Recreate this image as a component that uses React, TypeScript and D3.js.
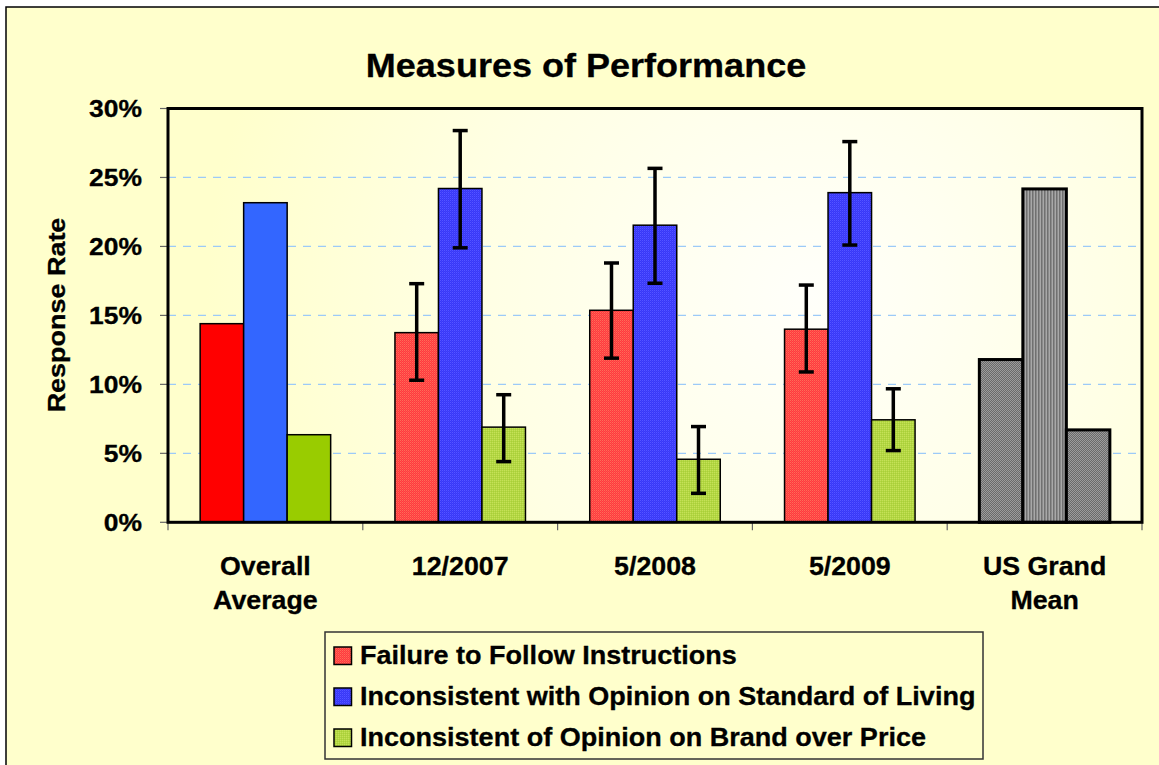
import React from 'react';
import * as d3 from 'd3';

const categories = ['Overall Average', '12/2007', '5/2008', '5/2009', 'US Grand Mean'];
const categoryLines = [['Overall', 'Average'], ['12/2007'], ['5/2008'], ['5/2009'], ['US Grand', 'Mean']];
const seriesNames = [
  'Failure to Follow Instructions',
  'Inconsistent with Opinion on Standard of Living',
  'Inconsistent of Opinion on Brand over Price',
];
const failureValues = [0.144, 0.1375, 0.1537, 0.140, 0.118];
const standardValues = [0.2317, 0.242, 0.2154, 0.239, 0.2417];
const brandValues = [0.0635, 0.069, 0.0457, 0.0743, 0.067];
const failureErrHigh = [null, 0.173, 0.188, 0.172, null];
const failureErrLow = [null, 0.103, 0.119, 0.109, null];
const standardErrHigh = [null, 0.284, 0.2566, 0.276, null];
const standardErrLow = [null, 0.199, 0.1733, 0.201, null];
const brandErrHigh = [null, 0.0925, 0.0694, 0.0968, null];
const brandErrLow = [null, 0.044, 0.021, 0.052, null];
const yTicks = [0, 0.05, 0.1, 0.15, 0.2, 0.25, 0.3];

const seriesValues = [failureValues, standardValues, brandValues];
const seriesHigh = [failureErrHigh, standardErrHigh, brandErrHigh];
const seriesLow = [failureErrLow, standardErrLow, brandErrLow];

const FONT = '"Liberation Sans", Arial, sans-serif';

function T({ x, y, sx = 1, size, anchor = 'start', rotate = 0, children }: any) {
  return (
    <text
      transform={`translate(${x},${y}) rotate(${rotate}) scale(${sx},1)`}
      fontSize={size}
      fontFamily={FONT}
      fontWeight="bold"
      textAnchor={anchor}
      fill="#000"
      stroke="#000"
      strokeWidth={0.3}
    >
      {children}
    </text>
  );
}

export default function App() {
  const left = 168, right = 1142, top = 108.5, bottom = 522.3;
  const x0 = d3.scaleBand<string>().domain(categories).range([left, right]).paddingInner(0).paddingOuter(0);
  const bw = x0.bandwidth();
  const x1 = d3.scaleBand<string>().domain(seriesNames).range([bw * 0.165, bw * 0.835]).padding(0);
  const y = d3.scaleLinear().domain([0, 0.3]).range([bottom, top]);
  const fmt = d3.format('.0%');

  const solidFills = ['#FF0000', '#3366FF', '#99CC00'];
  const texFills = ['url(#pRed)', 'url(#pBlue)', 'url(#pGreen)'];
  const grayFills = ['url(#pGrayCheck)', 'url(#pGrayStripe)', 'url(#pGrayCheck)'];

  const fillFor = (ci: number, si: number) => (ci === 0 ? solidFills[si] : ci === 4 ? grayFills[si] : texFills[si]);

  return (
    <svg width={1159} height={765} style={{ position: 'absolute', left: 0, top: 0, background: '#fff' }}>
      <defs>
        <radialGradient id="plotBg" cx="0.66" cy="0.45" r="0.62" gradientTransform="translate(0.66 0.45) scale(1 2.3) translate(-0.66 -0.45)">
          <stop offset="0" stopColor="#FFFFFA" />
          <stop offset="0.55" stopColor="#FFFFE4" />
          <stop offset="1" stopColor="#FFFFCC" />
        </radialGradient>
        <pattern id="pRed" width="2" height="2" patternUnits="userSpaceOnUse">
          <rect width="2" height="2" fill="#FF3C3C" />
          <rect width="1" height="1" fill="#FF6A5A" />
          <rect x="1" y="1" width="1" height="1" fill="#FF5050" />
        </pattern>
        <pattern id="pBlue" width="2" height="2" patternUnits="userSpaceOnUse">
          <rect width="2" height="2" fill="#3535FF" />
          <rect width="1" height="1" fill="#5656FF" />
          <rect x="1" y="1" width="1" height="1" fill="#4545F0" />
        </pattern>
        <pattern id="pGreen" width="2" height="2" patternUnits="userSpaceOnUse">
          <rect width="2" height="2" fill="#B4D840" />
          <rect width="1" height="1" fill="#C4E05A" />
          <rect x="1" y="1" width="1" height="1" fill="#A8CE3C" />
        </pattern>
        <pattern id="pGrayCheck" width="2" height="2" patternUnits="userSpaceOnUse">
          <rect width="2" height="2" fill="#6A6A6A" />
          <rect width="1" height="1" fill="#9C9C9C" />
          <rect x="1" y="1" width="1" height="1" fill="#9C9C9C" />
        </pattern>
        <pattern id="pGrayStripe" width="3" height="3" patternUnits="userSpaceOnUse">
          <rect width="3" height="3" fill="#8A8A8A" />
          <rect width="1" height="3" fill="#707070" />
          <rect x="2" width="1" height="3" fill="#A8A8A8" />
        </pattern>
      </defs>

      {/* outer chart area */}
      <rect x={6} y={7} width={1170} height={780} fill="#FFFFCC" stroke="#000" strokeWidth={1.5} />

      {/* title */}
      <T x={586} y={77} size={34} sx={1.06} anchor="middle">Measures of Performance</T>

      {/* plot background */}
      <rect x={left} y={top} width={right - left} height={bottom - top} fill="url(#plotBg)" />

      {/* gridlines */}
      {yTicks.filter((t) => t > 0 && t < 0.3).map((t) => (
        <line key={t} x1={left} x2={right} y1={y(t)} y2={y(t)} stroke="#9CCAF8" strokeWidth={1.2} strokeDasharray="8 7" />
      ))}

      {/* y ticks + labels */}
      {yTicks.map((t) => (
        <g key={'yt' + t}>
          <line x1={160} x2={left} y1={y(t)} y2={y(t)} stroke="#666" strokeWidth={1.2} />
          <T x={142} y={y(t) + 8.5} size={24.5} sx={1.08} anchor="end">{fmt(t)}</T>
        </g>
      ))}

      {/* x ticks */}
      {categories.map((c) => (
        <line key={'xt' + c} x1={x0(c)!} x2={x0(c)!} y1={bottom} y2={bottom + 8} stroke="#666" strokeWidth={1.2} />
      ))}
      <line x1={right} x2={right} y1={bottom} y2={bottom + 8} stroke="#666" strokeWidth={1.2} />

      {/* bars */}
      {categories.map((c, ci) => (
        <g key={'g' + c}>
          {seriesNames.map((s, si) => {
            const v = seriesValues[si][ci];
            const bx = x0(c)! + x1(s)!;
            const gray = ci === 4;
            return (
              <rect
                key={s}
                x={bx}
                y={y(v)}
                width={x1.bandwidth()}
                height={y(0) - y(v)}
                fill={fillFor(ci, si)}
                stroke="#000"
                strokeWidth={gray ? 3 : 1.5}
              />
            );
          })}
        </g>
      ))}

      {/* error bars */}
      {categories.map((c, ci) => (
        <g key={'e' + c}>
          {seriesNames.map((s, si) => {
            const hi = seriesHigh[si][ci];
            const lo = seriesLow[si][ci];
            if (hi == null || lo == null) return null;
            const cx = x0(c)! + x1(s)! + x1.bandwidth() / 2;
            return (
              <g key={s} stroke="#000" strokeWidth={3.5}>
                <line x1={cx} x2={cx} y1={y(hi)} y2={y(lo)} />
                <line x1={cx - 7.5} x2={cx + 7.5} y1={y(hi)} y2={y(hi)} />
                <line x1={cx - 7.5} x2={cx + 7.5} y1={y(lo)} y2={y(lo)} />
              </g>
            );
          })}
        </g>
      ))}

      {/* plot frame */}
      <rect x={left} y={top} width={right - left} height={bottom - top} fill="none" stroke="#000" strokeWidth={3} />

      {/* y axis title */}
      <T x={65} y={315} size={24.5} sx={1.1} rotate={-90} anchor="middle">Response Rate</T>

      {/* x labels */}
      {categories.map((c, ci) => (
        <g key={'xl' + c}>
          {categoryLines[ci].map((ln, li) => (
            <T key={ln} x={x0(c)! + bw / 2} y={575 + li * 34} size={26} sx={1.03} anchor="middle">{ln}</T>
          ))}
        </g>
      ))}

      {/* legend */}
      <rect x={325} y={632} width={658} height={127} fill="#FFFFCC" stroke="#333" strokeWidth={1.5} />
      {seriesNames.map((s, si) => (
        <g key={'lg' + s}>
          <rect x={334} y={647 + si * 41} width={17.5} height={17.5} fill={texFills[si]} stroke="#000" strokeWidth={1.5} />
          <T x={360} y={664 + si * 41} size={25.5} sx={1.06}>{s}</T>
        </g>
      ))}
    </svg>
  );
}
